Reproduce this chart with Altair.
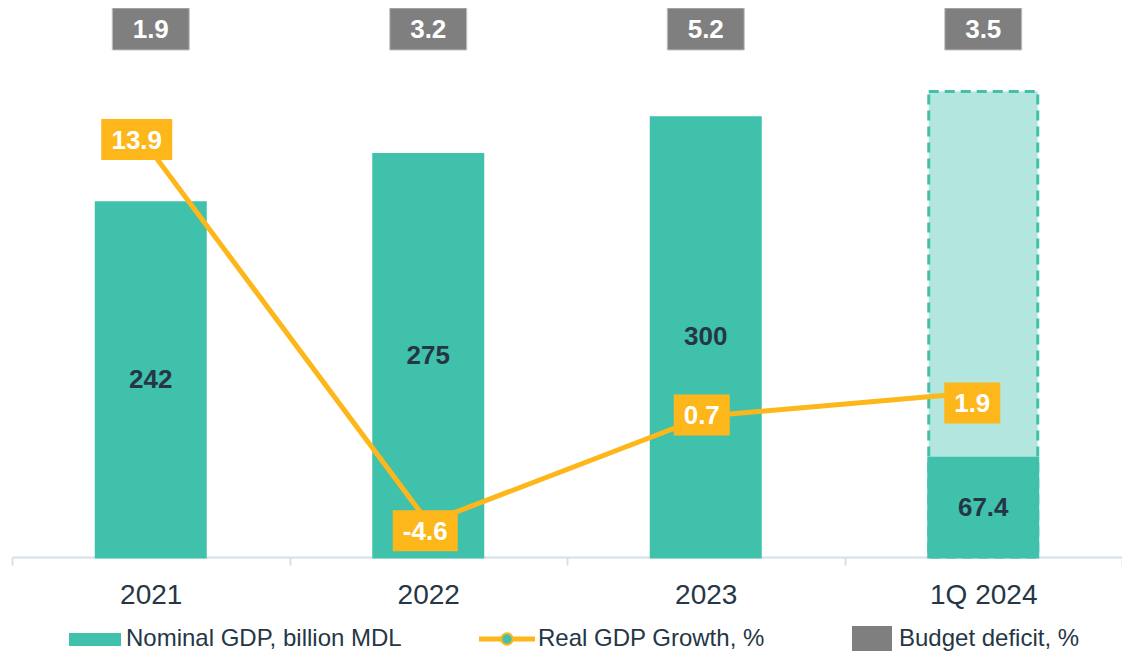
import altair as alt
import pandas as pd

# ---- data ----
periods = ["2021", "2022", "2023", "1Q 2024"]
nominal_gdp = [242, 275, 300, 67.4]          # billion MDL (solid bars)
gdp_outline = [None, None, None, 318]        # dashed full-year outline bar
real_growth = [13.9, -4.6, 0.7, 1.9]         # %
budget_deficit = [1.9, 3.2, 5.2, 3.5]        # %
legend_labels = ["Nominal GDP, billion MDL", "Real GDP Growth, %", "Budget deficit, %"]

# ---- styles ----
FONT = "Liberation Sans, Arial, sans-serif"
TEAL = "#40c1ac"
TEAL_LIGHT = "#b2e6de"
ORANGE = "#fdb71a"
GREY = "#7f7f7f"
DARK = "#253746"
AXIS_COL = "#d5e0e8"
W, H = 1110, 549
BAR_W = 109   # plus 3px stroke -> 112px
# label box offsets (dx, dy) relative to each growth point
label_shift = [(-14, -11), (-3, 8), (-4, -1), (-11, 11)]

CHAR_W = {".": 0.278, "-": 0.333}


def text_w(s, size):
    return sum(CHAR_W.get(c, 0.556) for c in s) * size


df = pd.DataFrame({
    "period": periods,
    "gdp": nominal_gdp,
    "outline": gdp_outline,
    "growth": real_growth,
    "deficit": budget_deficit,
})
df["gdp_txt"] = [f"{v:g}" for v in nominal_gdp]
df["gdp_mid"] = [v / 2 for v in nominal_gdp]
df["growth_txt"] = [f"{v:.1f}" for v in real_growth]
df["deficit_txt"] = [f"{v:.1f}" for v in budget_deficit]

base = alt.Chart(df)

x_enc = alt.X(
    "period:N", sort=periods,
    scale=alt.Scale(domain=periods, paddingInner=0, paddingOuter=0),
    axis=alt.Axis(title=None, labelAngle=0, labelFont=FONT, labelFontSize=28,
                  labelColor=DARK, domainColor=AXIS_COL, domainWidth=2,
                  tickColor=AXIS_COL, tickWidth=2, tickSize=8, tickBand="extent",
                  labelPadding=16, grid=False),
)
gdp_scale = alt.Scale(domain=[0, 375], nice=False, zero=False)
growth_scale = alt.Scale(domain=[-6.305, 20.99], nice=False, zero=False)

outline = base.transform_filter("isValid(datum.outline)").mark_bar(
    width=BAR_W, fill=TEAL_LIGHT, stroke=TEAL, strokeWidth=3, strokeDash=[10, 6]
).encode(x=x_enc, y=alt.Y("outline:Q", scale=gdp_scale, axis=None))

bars = base.mark_bar(width=BAR_W, color=TEAL, stroke=TEAL, strokeWidth=3).encode(
    x=x_enc, y=alt.Y("gdp:Q", scale=gdp_scale, axis=None))

bar_text = base.mark_text(font=FONT, fontSize=26, fontWeight="bold", color=DARK,
                          baseline="middle").encode(
    x=x_enc, y=alt.Y("gdp_mid:Q", scale=gdp_scale, axis=None), text="gdp_txt:N")

line = base.mark_line(color=ORANGE, strokeWidth=5).encode(
    x=x_enc, y=alt.Y("growth:Q", scale=growth_scale, axis=None))

layers = [outline, bars, bar_text, line]

for p, txt, (dx, dy) in zip(periods, df["growth_txt"], label_shift):
    bw = round(text_w(txt, 26) + 20)
    sub = base.transform_filter(alt.datum.period == p)
    box = sub.mark_bar(width=bw, color=ORANGE, xOffset=dx,
                       yOffset=dy - 20.5, y2Offset=dy + 20.5).encode(
        x=x_enc,
        y=alt.Y("growth:Q", scale=growth_scale, axis=None),
        y2="growth:Q")
    lbl = sub.mark_text(font=FONT, fontSize=26, fontWeight="bold", color="white",
                        baseline="middle", dx=dx, dy=dy + 1).encode(
        x=x_enc, y=alt.Y("growth:Q", scale=growth_scale, axis=None), text="growth_txt:N")
    layers += [box, lbl]

# budget deficit boxes along the top
def_box = base.mark_bar(width=77, color=GREY, stroke="#c4c4c4", strokeWidth=1).encode(
    x=x_enc, y=alt.value(0), y2=alt.value(42))
def_txt = base.mark_text(font=FONT, fontSize=26, fontWeight="bold", color="white",
                         baseline="middle").encode(
    x=x_enc, y=alt.value(22), text="deficit_txt:N")
layers += [def_box, def_txt]

# ---- legend (drawn below the plot) ----
leg = [pd.DataFrame({"label": [l]}) for l in legend_labels]
LY = 631
leg1_sym = alt.Chart(leg[0]).mark_rect(color=TEAL).encode(
    x=alt.value(57), x2=alt.value(109), y=alt.value(LY - 6), y2=alt.value(LY + 7))
leg2_line = alt.Chart(leg[1]).mark_rule(color=ORANGE, strokeWidth=5).encode(
    x=alt.value(467), x2=alt.value(523), y=alt.value(LY))
leg2_pt = alt.Chart(leg[1]).mark_point(shape="circle", size=130, filled=True, fill=TEAL,
                                       stroke=ORANGE, strokeWidth=2, opacity=1).encode(
    x=alt.value(495), y=alt.value(LY))
leg3_sym = alt.Chart(leg[2]).mark_rect(color=GREY).encode(
    x=alt.value(840), x2=alt.value(880), y=alt.value(LY - 13), y2=alt.value(LY + 12))
leg_texts = []
for d, xpos in zip(leg, [114, 526, 887]):
    leg_texts.append(alt.Chart(d).mark_text(font=FONT, fontSize=24, color=DARK,
                                            align="left", baseline="middle").encode(
        x=alt.value(xpos), y=alt.value(LY), text="label:N"))
layers += [leg1_sym, leg2_line, leg2_pt, leg3_sym] + leg_texts

chart = alt.layer(*layers).resolve_scale(y="independent").properties(
    width=W, height=H,
    autosize=alt.AutoSizeParams(type="none"),
    padding={"left": 4, "top": 0, "right": 0, "bottom": 96},
).configure_view(stroke=None)

chart.save("out.html", embed_options={"renderer": "svg", "actions": False})
